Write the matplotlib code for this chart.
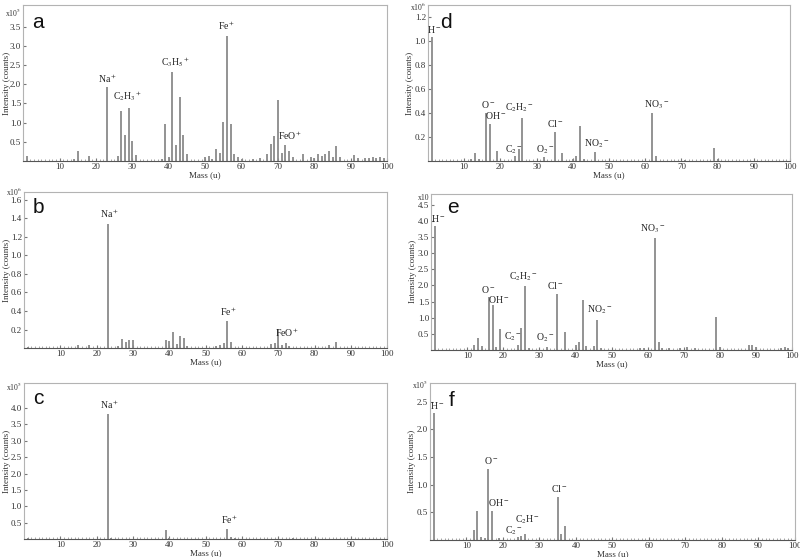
import numpy as np
import matplotlib
matplotlib.use("Agg")
import matplotlib.pyplot as plt

plt.rcParams['font.family'] = ['Liberation Serif', 'DejaVu Serif']
plt.rcParams['mathtext.fontset'] = 'stix'

# peak lists (mass, intensity)
mass_a = [1, 14, 15, 18, 23, 26, 27, 28, 29, 30, 31, 38, 39, 40, 41, 42, 43, 44, 45, 50, 51, 52, 53, 54, 55, 56, 57,
          58, 59, 60, 63, 65, 67, 68, 69, 70, 71, 72, 73, 74, 77, 79, 80, 81, 82, 83, 84, 85, 86, 87, 91, 92, 94, 95,
          96, 97, 98, 99]
int_a = [0.12, 0.05, 0.27, 0.13, 1.93, 0.14, 1.30, 0.67, 1.37, 0.51, 0.15, 0.06, 0.96, 0.11, 2.31, 0.42, 1.66, 0.67,
         0.17, 0.10, 0.12, 0.05, 0.31, 0.21, 1.01, 3.26, 0.97, 0.18, 0.10, 0.05, 0.05, 0.07, 0.18, 0.43, 0.65, 1.60,
         0.22, 0.41, 0.27, 0.10, 0.18, 0.10, 0.08, 0.17, 0.14, 0.17, 0.25, 0.10, 0.40, 0.10, 0.15, 0.07, 0.07, 0.09,
         0.10, 0.08, 0.10, 0.07]

mass_b = [1, 15, 18, 23, 26, 27, 28, 29, 30, 39, 40, 41, 42, 43, 44, 45, 53, 54, 55, 56, 57, 68, 69, 70, 71, 72, 73,
          84, 86]
int_b = [0.01, 0.03, 0.03, 1.34, 0.02, 0.10, 0.07, 0.09, 0.09, 0.09, 0.08, 0.17, 0.04, 0.13, 0.11, 0.02, 0.02, 0.03,
         0.06, 0.29, 0.07, 0.04, 0.06, 0.21, 0.03, 0.05, 0.02, 0.03, 0.07]

mass_c = [1, 23, 24, 27, 28, 39, 40, 56, 57, 58, 74]
int_c = [0.05, 3.80, 0.05, 0.02, 0.02, 0.27, 0.03, 0.32, 0.08, 0.04, 0.05]

mass_d = [1, 12, 13, 14, 16, 17, 19, 24, 25, 26, 32, 35, 37, 40, 41, 42, 43, 46, 62, 63, 71, 79, 80]
int_d = [1.03, 0.02, 0.07, 0.02, 0.40, 0.31, 0.08, 0.04, 0.10, 0.36, 0.03, 0.24, 0.07, 0.02, 0.04, 0.29, 0.02,
         0.075, 0.40, 0.04, 0.01, 0.11, 0.02]

mass_e = [1, 12, 13, 14, 16, 17, 18, 19, 24, 25, 26, 27, 32, 35, 37, 40, 41, 42, 43, 45, 46, 47, 58, 59, 62, 63, 64,
          66, 69, 71, 73, 79, 80, 88, 89, 90, 97, 98, 99]
int_e = [3.84, 0.15, 0.36, 0.12, 1.64, 1.38, 0.10, 0.64, 0.15, 0.67, 1.99, 0.05, 0.10, 1.74, 0.54, 0.15, 0.25, 1.56,
         0.12, 0.12, 0.93, 0.05, 0.05, 0.05, 3.48, 0.25, 0.05, 0.05, 0.07, 0.08, 0.05, 1.02, 0.10, 0.15, 0.15, 0.10,
         0.05, 0.08, 0.06]

mass_f = [1, 12, 13, 14, 15, 16, 17, 19, 24, 25, 26, 35, 36, 37]
int_f = [2.30, 0.19, 0.52, 0.05, 0.03, 1.28, 0.52, 0.04, 0.05, 0.08, 0.10, 0.77, 0.10, 0.25]

# ion labels: (text, x, y)
labels_a = [(r'Na$^+$', 23.2, 1.98), (r'C$_2$H$_3$$^+$', 28.8, 1.50), (r'C$_3$H$_5$$^+$', 41.8, 2.41),
            (r'Fe$^+$', 56.0, 3.37), (r'FeO$^+$', 73.4, 0.50)]
labels_b = [(r'Na$^+$', 23.6, 1.38), (r'Fe$^+$', 56.3, 0.32), (r'FeO$^+$', 72.4, 0.10)]
labels_c = [(r'Na$^+$', 23.4, 3.90), (r'Fe$^+$', 56.6, 0.40)]
labels_d = [(r'H$^-$', 1.6, 1.05), (r'O$^-$', 16.6, 0.425), (r'OH$^-$', 18.6, 0.33), (r'C$_2$H$_2$$^-$', 25.4, 0.39),
            (r'C$_2$$^-$', 23.7, 0.04), (r'O$_2$$^-$', 32.4, 0.04), (r'Cl$^-$', 35.2, 0.27),
            (r'NO$_2$$^-$', 46.6, 0.09), (r'NO$_3$$^-$', 63.3, 0.42)]
labels_e = [(r'H$^-$', 2.0, 3.90), (r'O$^-$', 15.8, 1.71), (r'OH$^-$', 18.8, 1.38), (r'C$_2$H$_2$$^-$', 25.7, 2.08),
            (r'C$_2$$^-$', 22.6, 0.20), (r'O$_2$$^-$', 31.7, 0.18), (r'Cl$^-$', 34.5, 1.82),
            (r'NO$_2$$^-$', 46.6, 1.04), (r'NO$_3$$^-$', 61.5, 3.58)]
labels_f = [(r'H$^-$', 2.0, 2.33), (r'O$^-$', 16.8, 1.33), (r'OH$^-$', 18.7, 0.58), (r'C$_2$$^-$', 23.0, 0.05),
            (r'C$_2$H$^-$', 26.6, 0.26), (r'Cl$^-$', 35.5, 0.84)]

panels = [
    # letter, masses, intensities, labels, ymax, yticks, exponent, exponent y, axes rect, letter pos, ylabel x
    ('a', mass_a, int_a, labels_a, 4.07, np.arange(0.5, 3.6, 0.5), r'x10$^5$', 0.95,
     [0.029, 0.711, 0.455, 0.280], (0.04, 0.89), -0.033),
    ('b', mass_b, int_b, labels_b, 1.68, np.arange(0.2, 1.7, 0.2), r'x10$^6$', 1.0,
     [0.030, 0.375, 0.454, 0.280], (0.04, 0.90), -0.036),
    ('c', mass_c, int_c, labels_c, 4.75, np.arange(0.5, 4.1, 0.5), r'x10$^5$', 0.975,
     [0.030, 0.032, 0.454, 0.280], (0.04, 0.90), -0.036),
    ('d', mass_d, int_d, labels_d, 1.30, np.arange(0.2, 1.3, 0.2), r'x10$^6$', 0.985,
     [0.535, 0.711, 0.4525, 0.280], (0.05, 0.89), -0.039),
    ('e', mass_e, int_e, labels_e, 4.85, np.arange(0.5, 4.6, 0.5), r'x10', 0.975,
     [0.539, 0.372, 0.451, 0.280], (0.06, 0.91), -0.039),
    ('f', mass_f, int_f, labels_f, 2.84, np.arange(0.5, 2.6, 0.5), r'x10$^5$', 0.985,
     [0.5375, 0.0305, 0.456, 0.282], (0.06, 0.89), -0.039),
]

fig = plt.figure(figsize=(8, 5.57), dpi=100)

for letter, m, y, labs, ymax, yt, expo, expo_y, rect, lpos, ylx in panels:
    ax = fig.add_axes(rect)
    ax.vlines(m, 0, y, color='#8a8a8a', lw=1.3)
    ax.set_xlim(0, 100)
    ax.set_ylim(0, ymax)
    ax.set_xticks(np.arange(10, 101, 10))
    ax.set_xticks(np.arange(1, 100, 1), minor=True)
    ax.set_yticks(yt)
    ax.set_yticklabels(['%.1f' % v for v in yt])
    ax.tick_params(axis='both', which='major', labelsize=6.5, length=2, color='#777777', pad=1.5,
                   direction='in', labelcolor='#333333')
    ax.tick_params(axis='x', which='minor', length=1.5, color='#999999', direction='in')
    for s in ax.spines.values():
        s.set_color('#b3b3b3')
        s.set_linewidth(0.8)
    ax.spines['bottom'].set_color('#555555')
    ax.set_xlabel('Mass (u)', fontsize=6.5, labelpad=0, color='#333333')
    ax.set_ylabel('Intensity (counts)', fontsize=6.5, color='#333333')
    ax.yaxis.set_label_coords(ylx, 0.5)
    ax.text(-0.006, expo_y, expo, transform=ax.transAxes, ha='right', va='center', fontsize=5.5, color='#333333')
    ax.text(lpos[0], lpos[1], letter, transform=ax.transAxes, ha='center', va='center',
            fontsize=15, family='Liberation Sans', color='#111111')
    for t, tx, ty in labs:
        ax.text(tx, ty, t, ha='center', va='bottom', fontsize=7, color='#222222')

fig.savefig('out.png', dpi=100)
